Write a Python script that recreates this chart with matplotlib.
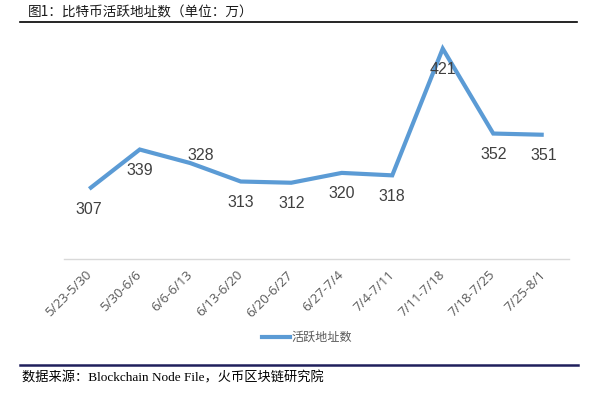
import matplotlib
matplotlib.use("Agg")
import matplotlib.pyplot as plt
from matplotlib.lines import Line2D

plt.rcParams['font.family'] = ['Noto Sans CJK SC', 'DejaVu Sans']

categories = ["5/23-5/30", "5/30-6/6", "6/6-6/13", "6/13-6/20", "6/20-6/27",
              "6/27-7/4", "7/4-7/11", "7/11-7/18", "7/18-7/25", "7/25-8/1"]
values = [307, 339, 328, 313, 312, 320, 318, 421, 352, 351]
label_above = [False, False, True, False, False, False, False, False, False, False]
series_name = "活跃地址数"
title = "图1：比特币活跃地址数（单位：万）"
source = "数据来源：Blockchain Node File，火币区块链研究院"

W, H = 598, 393
fig = plt.figure(figsize=(W / 100, H / 100), dpi=100)

# plot area in pixels
left, right, top, bottom = 64, 569, 13, 259
ax = fig.add_axes([left / W, 1 - bottom / H, (right - left) / W, (bottom - top) / H])

x = list(range(len(categories)))
color = "#5B9BD5"
ax.plot(x, values, color=color, lw=3, solid_joinstyle='miter', solid_capstyle='butt')
ax.set_xlim(-0.5, len(categories) - 0.5)
ax.set_ylim(250, 450)

for i, v in enumerate(values):
    if label_above[i]:
        off = (11, 8)
    else:
        off = (0, -21)
    ax.annotate(str(v), (i, v), xytext=off, textcoords='offset pixels',
                ha='center', va='center', fontsize=11.5, color='#404040',
                family=['Liberation Sans', 'DejaVu Sans'])

for s in ['top', 'right', 'left']:
    ax.spines[s].set_visible(False)
ax.spines['bottom'].set_color('#D9D9D9')
ax.spines['bottom'].set_linewidth(1)
ax.set_yticks([])
ax.set_xticks(x)
ax.set_xticklabels(categories, rotation=45, ha='right', va='center',
                   rotation_mode='anchor', fontsize=9.5, color='#595959',
                   family=['Open Sans', 'DejaVu Sans'])
ax.tick_params(axis='x', length=0, pad=10)

# legend
ly = 1 - 337 / H
fig.add_artist(Line2D([262 / W, 290 / W], [ly, ly], color=color, lw=3,
                      transform=fig.transFigure))
fig.text(292 / W, ly, series_name, ha='left', va='center', fontsize=8.7, color='#595959')

# title and rules
fig.text(28 / W, 1 - 12 / H, title, ha='left', va='center', fontsize=9.8, color='#1a1a1a')
fig.add_artist(Line2D([20 / W, 577 / W], [1 - 22 / H, 1 - 22 / H], color='black', lw=1.2,
                      transform=fig.transFigure))
fig.add_artist(Line2D([20 / W, 578 / W], [1 - 365 / H, 1 - 365 / H], color='#1F1F5C', lw=1.8,
                      transform=fig.transFigure))
fig.text(22 / W, 1 - 378 / H, source, ha='left', va='center', fontsize=9.5, color='black',
         family=['Liberation Serif', 'Noto Sans CJK SC'])

fig.savefig("out.png", dpi=100)
